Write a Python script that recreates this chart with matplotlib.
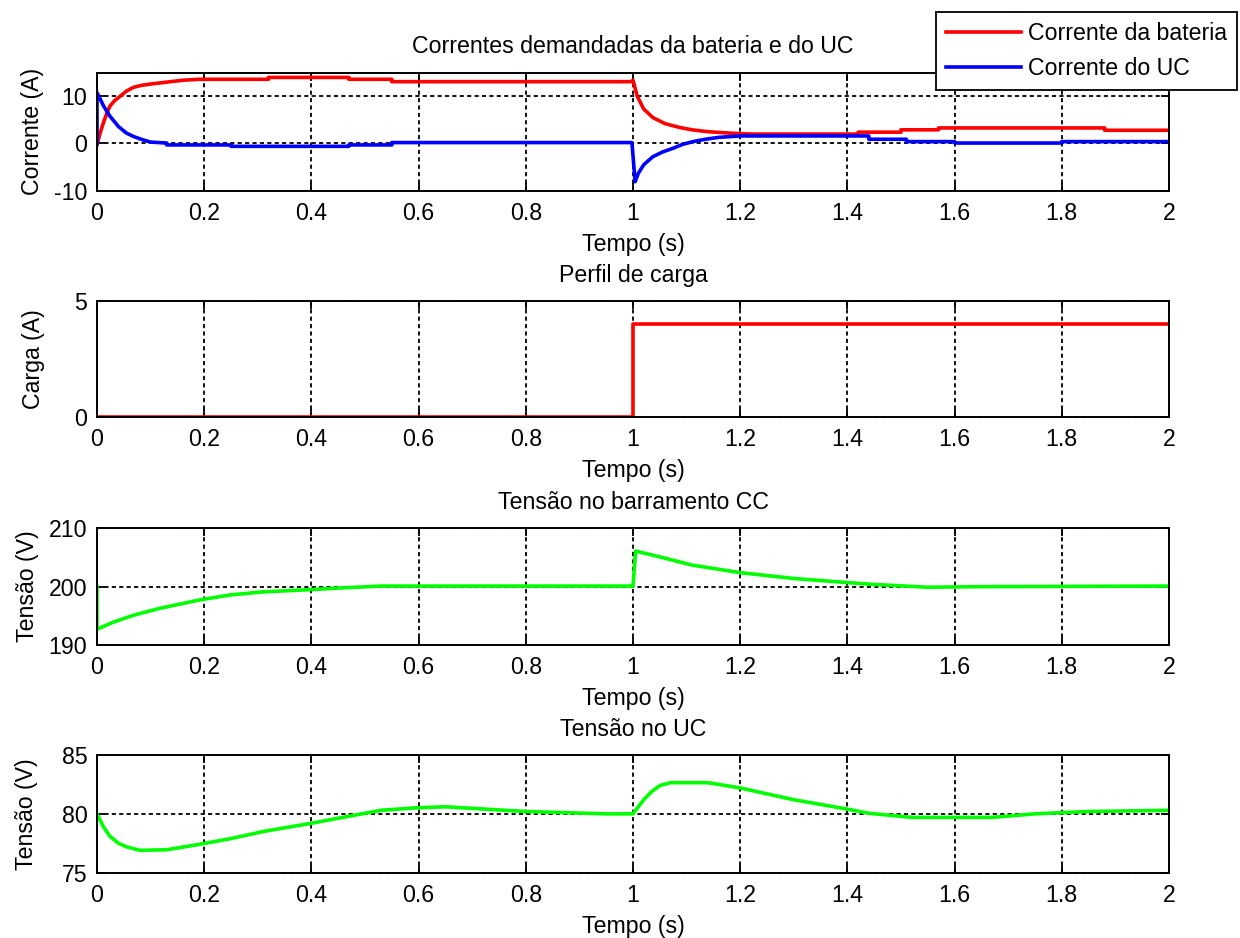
import numpy as np
import matplotlib
matplotlib.use("Agg")
import matplotlib.pyplot as plt

# ---- data ----
t_bat = [0, 0.006, 0.012, 0.018, 0.024, 0.033, 0.043, 0.055, 0.068, 0.082, 0.1, 0.13, 0.16, 0.19, 0.32, 0.32,
         0.47, 0.47, 0.55, 0.55, 0.998, 1.0, 1.008, 1.02, 1.037, 1.06, 1.087, 1.11, 1.14, 1.18, 1.22, 1.42, 1.42,
         1.5, 1.5, 1.57, 1.57, 1.88, 1.88, 2.0]
i_bat = [-0.3, 2.3, 4.4, 6.3, 7.9, 9.1, 10.0, 11.1, 11.9, 12.3, 12.6, 13.0, 13.4, 13.6, 13.6, 14.0,
         14.0, 13.6, 13.6, 13.1, 13.1, 13.4, 10.0, 7.3, 5.5, 4.2, 3.4, 2.9, 2.5, 2.2, 2.0, 2.0, 2.4,
         2.4, 2.9, 2.9, 3.3, 3.3, 2.8, 2.8]

t_uc = [0, 0.0, 0.012, 0.024, 0.04, 0.055, 0.07, 0.085, 0.1, 0.13, 0.13, 0.25, 0.25, 0.47, 0.47, 0.55, 0.55,
        0.998, 1.004, 1.01, 1.02, 1.037, 1.055, 1.075, 1.092, 1.112, 1.135, 1.16, 1.2, 1.44, 1.44, 1.51, 1.51,
        1.6, 1.6, 1.8, 1.8, 2.0]
i_uc = [0, 10.8, 8.0, 5.8, 3.6, 2.2, 1.4, 0.8, 0.3, 0.1, -0.3, -0.3, -0.6, -0.6, -0.3, -0.3, 0.2,
        0.2, -8.1, -6.3, -4.5, -2.8, -1.8, -1.0, -0.2, 0.4, 0.9, 1.3, 1.6, 1.6, 0.9, 0.9, 0.4,
        0.4, 0.1, 0.1, 0.4, 0.4]

t_load = [0, 1.0, 1.0, 2.0]
carga = [0, 0, 4, 4]

t_bus = [0, 0.0, 0.03, 0.068, 0.118, 0.19, 0.25, 0.31, 0.4, 0.46, 0.53, 1.0, 1.005, 1.05, 1.11,
         1.2, 1.3, 1.4, 1.445, 1.55, 1.65, 2.0]
v_bus = [200, 192.7, 193.9, 195.1, 196.3, 197.7, 198.6, 199.1, 199.5, 199.8, 200.1, 200.1, 206.1, 205.1, 203.7,
         202.4, 201.4, 200.7, 200.4, 199.9, 200.0, 200.1]

t_vuc = [0, 0.012, 0.024, 0.04, 0.055, 0.08, 0.13, 0.19, 0.25, 0.31, 0.4, 0.47, 0.53, 0.59, 0.65, 0.8, 0.95,
         1.0, 1.01, 1.02, 1.035, 1.05, 1.07, 1.14, 1.2, 1.3, 1.4, 1.44, 1.52, 1.67, 1.75, 1.85, 2.0]
v_uc = [80.0, 78.9, 78.1, 77.5, 77.2, 76.9, 76.95, 77.4, 77.9, 78.5, 79.2, 79.8, 80.3, 80.5, 80.6, 80.2, 80.0,
        80.0, 80.6, 81.2, 81.9, 82.4, 82.65, 82.65, 82.2, 81.2, 80.4, 80.05, 79.7, 79.7, 80.0, 80.2, 80.3]

titles = ["Correntes demandadas da bateria e do UC", "Perfil de carga",
          "Tensão no barramento CC", "Tensão no UC"]
ylabels = ["Corrente (A)", "Carga (A)", "Tensão (V)", "Tensão (V)"]
ylims = [(-10, 15), (0, 5), (190, 210), (75, 85)]
yticks = [[-10, 0, 10], [0, 5], [190, 200, 210], [75, 80, 85]]
xticks = [0, 0.2, 0.4, 0.6, 0.8, 1, 1.2, 1.4, 1.6, 1.8, 2]
xticklabels = ["0", "0.2", "0.4", "0.6", "0.8", "1", "1.2", "1.4", "1.6", "1.8", "2"]

plt.rcParams['font.family'] = ['Liberation Sans', 'DejaVu Sans']
plt.rcParams['font.size'] = 16.7
plt.rcParams['axes.unicode_minus'] = False

fig = plt.figure(figsize=(12.4, 9.38), dpi=100)
W, H = 1240.0, 938.0
# axes boxes in pixels: (top, bottom)
boxes = [(72.7, 190.7), (301, 416.7), (528.3, 645), (755, 872.7)]
# right edge (px) of the rotated y labels
ylab_x = [44, 45, 39, 38]
axs = []
for top, bot in boxes:
    ax = fig.add_axes([97 / W, 1 - bot / H, (1169 - 97) / W, (bot - top) / H])
    axs.append(ax)

lw = 2.6
lb, = axs[0].plot(t_bat, i_bat, color=(1, 0, 0), lw=lw, label="Corrente da bateria")
lu, = axs[0].plot(t_uc, i_uc, color=(0, 0, 1), lw=lw, label="Corrente do UC")
axs[1].plot(t_load, carga, color=(1, 0, 0), lw=lw)
axs[2].plot(t_bus, v_bus, color=(0, 1, 0), lw=lw)
axs[3].plot(t_vuc, v_uc, color=(0, 1, 0), lw=lw)

for k, ax in enumerate(axs):
    ax.set_xlim(0, 2)
    ax.set_ylim(*ylims[k])
    ax.set_xticks(xticks)
    ax.set_xticklabels(xticklabels)
    ax.set_yticks(yticks[k])
    ax.grid(True, color='black', linestyle=(0, (2.3, 1.8)), linewidth=1.3)
    ax.tick_params(direction='in', length=6, width=1.3, top=True, right=True)
    ax.tick_params(axis='x', pad=8)
    ax.tick_params(axis='y', pad=7)
    for s in ax.spines.values():
        s.set_linewidth(1.4)
    ax.set_title(titles[k], fontsize=16.7, pad=14)
    ax.set_xlabel("Tempo (s)", fontsize=16.7, labelpad=6)
    ax.set_ylabel(ylabels[k], fontsize=16.7)
    ax.yaxis.set_label_coords((ylab_x[k] - 97) / 1072.0, 0.5)

leg = fig.legend(handles=[lb, lu], loc='upper right',
                 bbox_to_anchor=(1237 / W, 1 - 12 / H), borderaxespad=0,
                 fancybox=False, edgecolor='black', framealpha=1,
                 handlelength=3.2, handletextpad=0.3, borderpad=0.45, labelspacing=0.5)
leg.get_frame().set_linewidth(1.3)

fig.savefig("out.png", dpi=100, facecolor='white')
